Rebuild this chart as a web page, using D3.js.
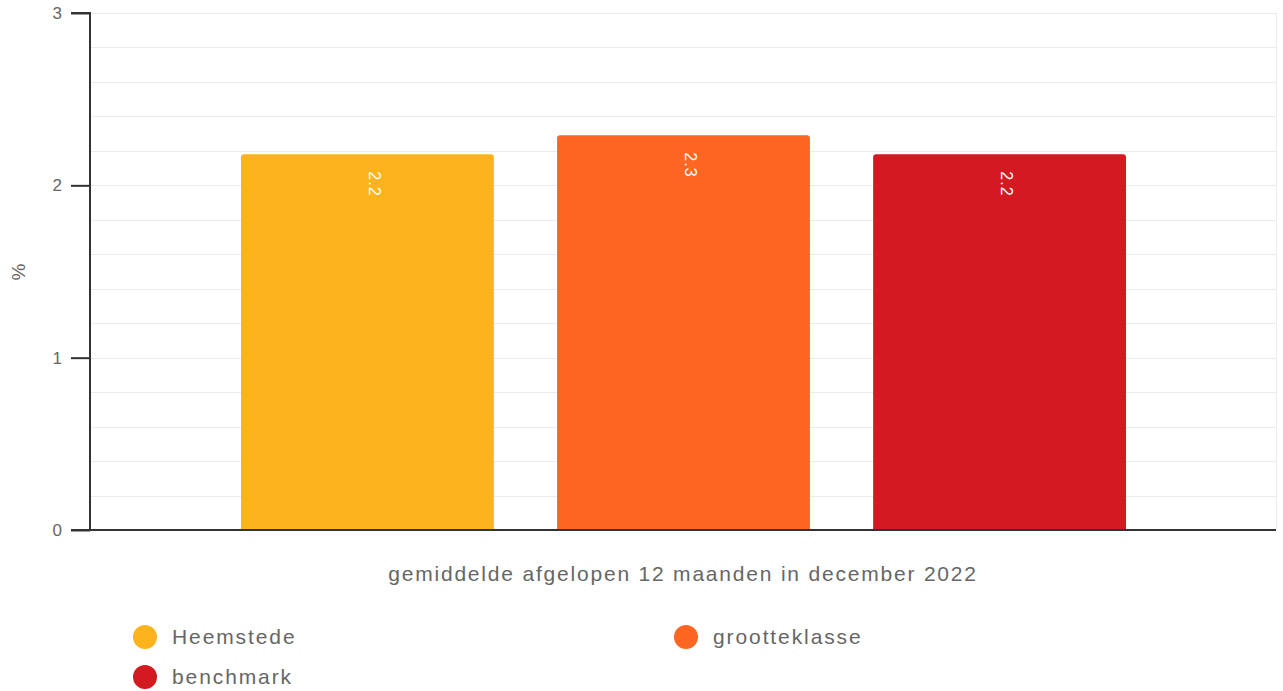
<!DOCTYPE html>
<html>
<head>
<meta charset="utf-8">
<script src="https://d3js.org/d3.v7.min.js"></script>
<style>
  body { margin: 0; background: #fff; }
  text { font-family: "Liberation Sans", Arial, sans-serif; }
</style>
</head>
<body>
<div id="chart"></div>
<script>
// data
var category = "gemiddelde afgelopen 12 maanden in december 2022";
var series = ["Heemstede", "grootteklasse", "benchmark"];
var values = [2.18, 2.29, 2.18];
var colors = ["#fdb31b", "#fe6622", "#d31a21"];
var yTicks = [0, 1, 2, 3];

var W = 1283, H = 691;
var m = { left: 90, right: 7, top: 13, bottom: 161 };

var svg = d3.select('#chart').append('svg')
  .attr('width', W)
  .attr('height', H)

var y = d3.scaleLinear().domain([0, 3]).range([H - m.bottom, m.top])
var x0 = d3.scaleBand().domain([category]).range([m.left, W - m.right])
var x1 = d3.scaleBand().domain(series).range([x0(category) + 151, x0(category) + x0.bandwidth() - 150]).paddingInner(0.2)

// grid
var grid = svg.append('g')
grid.selectAll('line.h')
  .data(d3.range(0, 3.01, 0.2))
  .enter().append('line')
    .attr('x1', m.left).attr('x2', W - m.right)
    .attr('y1', function(d){ return Math.round(y(d)) + 0.5 })
    .attr('y2', function(d){ return Math.round(y(d)) + 0.5 })
    .attr('stroke', '#ebebeb')
grid.append('line')
  .attr('x1', W - m.right + 0.5).attr('x2', W - m.right + 0.5)
  .attr('y1', m.top).attr('y2', H - m.bottom)
  .attr('stroke', '#ebebeb')

// bars
var bars = svg.append('g').selectAll('g')
  .data(series)
  .enter().append('g')

bars.append('path')
  .attr('fill', function(d, i){ return colors[i] })
  .attr('d', function(d, i) {
    var bx = x1(d), bw = x1.bandwidth(), by = y(values[i]), bb = y(0), r = 3
    return 'M' + bx + ',' + bb + 'V' + (by + r) + 'Q' + bx + ',' + by + ' ' + (bx + r) + ',' + by +
      'H' + (bx + bw - r) + 'Q' + (bx + bw) + ',' + by + ' ' + (bx + bw) + ',' + (by + r) + 'V' + bb + 'Z'
  })

bars.append('text')
  .attr('transform', function(d, i) {
    return 'translate(' + (x1(d) + x1.bandwidth() / 2 + 7) + ',' + (y(values[i]) + 17) + ') rotate(90)'
  })
  .attr('dy', '0.35em')
  .attr('fill', '#fff')
  .style('font-size', '16px')
  .style('letter-spacing', '1px')
  .text(function(d, i){ return d3.format('.1f')(values[i]) })

// axes
var yAxis = svg.append('g')
  .attr('transform', 'translate(' + m.left + ',0)')
  .call(d3.axisLeft(y).tickValues(yTicks).tickSize(19).tickPadding(9).tickFormat(d3.format('d')))
yAxis.select('.domain').attr('stroke', '#333').attr('stroke-width', 2).attr('d', 'M-19,' + m.top + 'H0V' + (H - m.bottom))
yAxis.selectAll('.tick line').attr('stroke', '#333').attr('stroke-width', 2)
yAxis.selectAll('.tick text').attr('fill', '#666').style('font-size', '17px').attr('font-family', '"Liberation Sans", Arial, sans-serif')

svg.append('line')
  .attr('x1', m.left - 19).attr('x2', W - m.right)
  .attr('y1', y(0)).attr('y2', y(0))
  .attr('stroke', '#333').attr('stroke-width', 2)

svg.append('text')
  .attr('transform', 'translate(18,' + 272 + ') rotate(-90)')
  .attr('text-anchor', 'middle')
  .attr('dy', '0.35em')
  .attr('fill', '#666')
  .style('font-size', '19px')
  .text('%')

svg.append('text')
  .attr('x', x0(category) + x0.bandwidth() / 2)
  .attr('y', 574)
  .attr('text-anchor', 'middle')
  .attr('dy', '0.35em')
  .attr('fill', '#666')
  .style('font-size', '21px')
  .style('letter-spacing', '1.8px')
  .text(category)

// legend
var legPos = [[145, 637], [686, 637], [145, 677]]
var leg = svg.append('g').selectAll('g')
  .data(series)
  .enter().append('g')
    .attr('transform', function(d, i){ return 'translate(' + legPos[i][0] + ',' + legPos[i][1] + ')' })
leg.append('circle').attr('r', 12).attr('fill', function(d, i){ return colors[i] })
leg.append('text')
  .attr('x', 27)
  .attr('dy', '0.35em')
  .attr('fill', '#666')
  .style('font-size', '21px')
  .style('letter-spacing', '1.9px')
  .text(function(d){ return d })
</script>
</body>
</html>
